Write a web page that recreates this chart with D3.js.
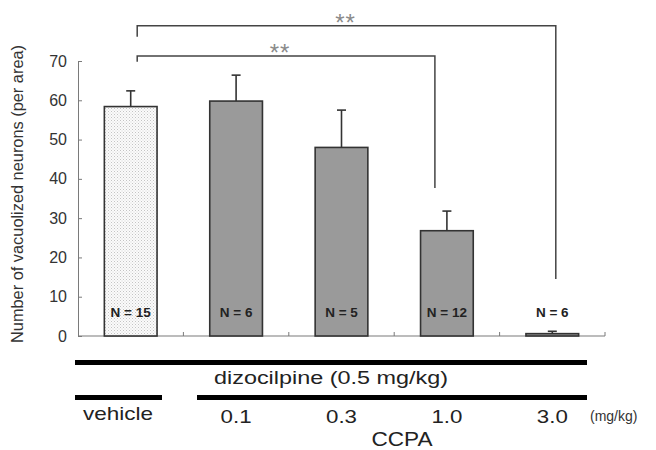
<!DOCTYPE html>
<html>
<head>
<meta charset="utf-8">
<script src="https://cdn.jsdelivr.net/npm/d3@7"></script>
<style>
  html, body { margin: 0; padding: 0; background: #fff; }
  svg { display: block; font-family: "Liberation Sans", Arial, sans-serif; }
</style>
</head>
<body>
<svg id="chart" width="656" height="450"></svg>
<script>
// ---- data ----
const categories = ["vehicle", "0.1", "0.3", "1.0", "3.0"];
const means      = [58.4, 59.8, 48.0, 26.8, 0.6];
const errUpper   = [4.0, 6.6, 9.5, 5.0, 0.6];
const nLabels    = ["N = 15", "N = 6", "N = 5", "N = 12", "N = 6"];
const yTicks     = [0, 10, 20, 30, 40, 50, 60, 70];
const sigFrom    = [0, 0];
const sigTo      = [3, 4];
const sigText    = ["**", "**"];

// ---- layout ----
const svg = d3.select("#chart");
const plotLeft = 78, plotRight = 605, plotTop = 61, plotBottom = 336;

const x = d3.scaleBand().domain(categories).range([plotLeft, plotRight])
  .paddingInner(0.5).paddingOuter(0.25);
const y = d3.scaleLinear().domain([0, 70]).range([plotBottom, plotTop]);

svg.append("rect").attr("width", 656).attr("height", 450).attr("fill", "#fff");

// dotted pattern for vehicle bar
const defs = svg.append("defs");
const pat = defs.append("pattern").attr("id", "dots")
  .attr("width", 3).attr("height", 3).attr("patternUnits", "userSpaceOnUse");
pat.append("rect").attr("width", 3).attr("height", 3).attr("fill", "#fbfbfb");
pat.append("rect").attr("x", 0).attr("y", 0).attr("width", 1).attr("height", 1).attr("fill", "#c4c4c4");
pat.append("rect").attr("x", 1.5).attr("y", 1.5).attr("width", 1).attr("height", 1).attr("fill", "#d4d4d4");

// ---- axes ----
const yAxis = d3.axisLeft(y).tickValues(yTicks).tickSize(-4).tickSizeOuter(0).tickPadding(11);
const gy = svg.append("g").attr("transform", `translate(${plotLeft},0)`).call(yAxis);
gy.select(".domain").attr("stroke", "#7a7a7a");
gy.selectAll(".tick line").attr("stroke", "#7a7a7a");
gy.selectAll(".tick text").attr("font-size", 16).attr("fill", "#333")
  .attr("font-family", "Liberation Sans, Arial, sans-serif");

// x baseline with inward ticks at band boundaries
svg.append("line").attr("x1", plotLeft).attr("x2", plotRight).attr("y1", plotBottom).attr("y2", plotBottom)
  .attr("stroke", "#7a7a7a").attr("stroke-width", 1.2);
const boundaries = categories.map(c => x(c) + x.bandwidth() + x.step() * x.paddingInner() / 2);
svg.selectAll(".xtick").data(boundaries).enter().append("line")
  .attr("x1", d => d).attr("x2", d => d).attr("y1", plotBottom).attr("y2", plotBottom - 4)
  .attr("stroke", "#7a7a7a");

// ---- bars ----
svg.selectAll(".bar").data(categories).enter().append("rect")
  .attr("x", d => x(d))
  .attr("y", (d, i) => y(means[i]))
  .attr("width", x.bandwidth())
  .attr("height", (d, i) => y(0) - y(means[i]))
  .attr("fill", (d, i) => i === 0 ? "url(#dots)" : "#9a9a9a")
  .attr("stroke", "#333").attr("stroke-width", 1.6);

// error bars
const cx = d => x(d) + x.bandwidth() / 2;
svg.selectAll(".err").data(categories).enter().append("line")
  .attr("x1", cx).attr("x2", cx)
  .attr("y1", (d, i) => y(means[i]))
  .attr("y2", (d, i) => y(means[i] + errUpper[i]))
  .attr("stroke", "#333").attr("stroke-width", 1.6);
svg.selectAll(".cap").data(categories).enter().append("line")
  .attr("x1", d => cx(d) - 4.5).attr("x2", d => cx(d) + 4.5)
  .attr("y1", (d, i) => y(means[i] + errUpper[i]))
  .attr("y2", (d, i) => y(means[i] + errUpper[i]))
  .attr("stroke", "#333").attr("stroke-width", 1.6);

// N labels
svg.selectAll(".nlab").data(categories).enter().append("text")
  .attr("x", cx).attr("y", 317)
  .attr("text-anchor", "middle").attr("font-size", 13.5).attr("font-weight", "bold")
  .attr("fill", "#222")
  .text((d, i) => nLabels[i]);

// ---- significance brackets ----
const bracketLevel = [71.3, 79.0];   // bracket heights in data units
const leftLegEnd   = [69.8, 76.2];
const rightLegEnd  = [37.7, 14.5];
const leftOff  = [6.5, 6.5];
const rightOff = [-12, 3.5];
sigFrom.forEach((f, k) => {
  const x1 = cx(categories[f]) + leftOff[k];
  const x2 = cx(categories[sigTo[k]]) + rightOff[k];
  const yb = y(bracketLevel[k]);
  svg.append("path")
    .attr("d", `M${x1},${y(leftLegEnd[k])}V${yb}H${x2}V${y(rightLegEnd[k])}`)
    .attr("fill", "none").attr("stroke", "#444").attr("stroke-width", 1.5);
  svg.append("text")
    .attr("x", (x1 + x2) / 2 + (k === 0 ? -6 : -1)).attr("y", yb + 5)
    .attr("text-anchor", "middle").attr("font-size", 24).attr("fill", "#8a8a8a")
    .attr("letter-spacing", 1)
    .text(sigText[k]);
});

// ---- y title ----
svg.append("text")
  .attr("transform", "translate(23,194) rotate(-90)")
  .attr("text-anchor", "middle").attr("font-size", 16).attr("fill", "#333")
  .attr("textLength", 298).attr("lengthAdjust", "spacingAndGlyphs")
  .text("Number of vacuolized neurons (per area)");

// ---- treatment annotation below axis ----
const lineRow1 = 362.5, lineRow2 = 397.5;
svg.append("line").attr("x1", 75).attr("x2", 587).attr("y1", lineRow1).attr("y2", lineRow1)
  .attr("stroke", "#000").attr("stroke-width", 5);
svg.append("text").attr("x", 214).attr("y", 384)
  .attr("font-size", 18).attr("fill", "#222")
  .attr("textLength", 234).attr("lengthAdjust", "spacingAndGlyphs")
  .text("dizocilpine (0.5 mg/kg)");
svg.append("line").attr("x1", 75).attr("x2", 162).attr("y1", lineRow2).attr("y2", lineRow2)
  .attr("stroke", "#000").attr("stroke-width", 5);
svg.append("line").attr("x1", 197).attr("x2", 587).attr("y1", lineRow2).attr("y2", lineRow2)
  .attr("stroke", "#000").attr("stroke-width", 5);

// category labels
svg.selectAll(".clab").data(categories).enter().append("text")
  .attr("x", (d, i) => i === 0 ? 118 : cx(d))
  .attr("y", (d, i) => i === 0 ? 420 : 423)
  .attr("text-anchor", "middle").attr("font-size", 19).attr("fill", "#222")
  .attr("textLength", (d, i) => i === 0 ? 70 : 31)
  .attr("lengthAdjust", "spacingAndGlyphs")
  .text(d => d);

svg.append("text").attr("x", 590).attr("y", 421)
  .attr("font-size", 14).attr("fill", "#333")
  .text("(mg/kg)");
svg.append("text").attr("x", 402).attr("y", 446)
  .attr("text-anchor", "middle").attr("font-size", 21).attr("fill", "#222")
  .attr("textLength", 61).attr("lengthAdjust", "spacingAndGlyphs")
  .text("CCPA");
</script>
</body>
</html>
